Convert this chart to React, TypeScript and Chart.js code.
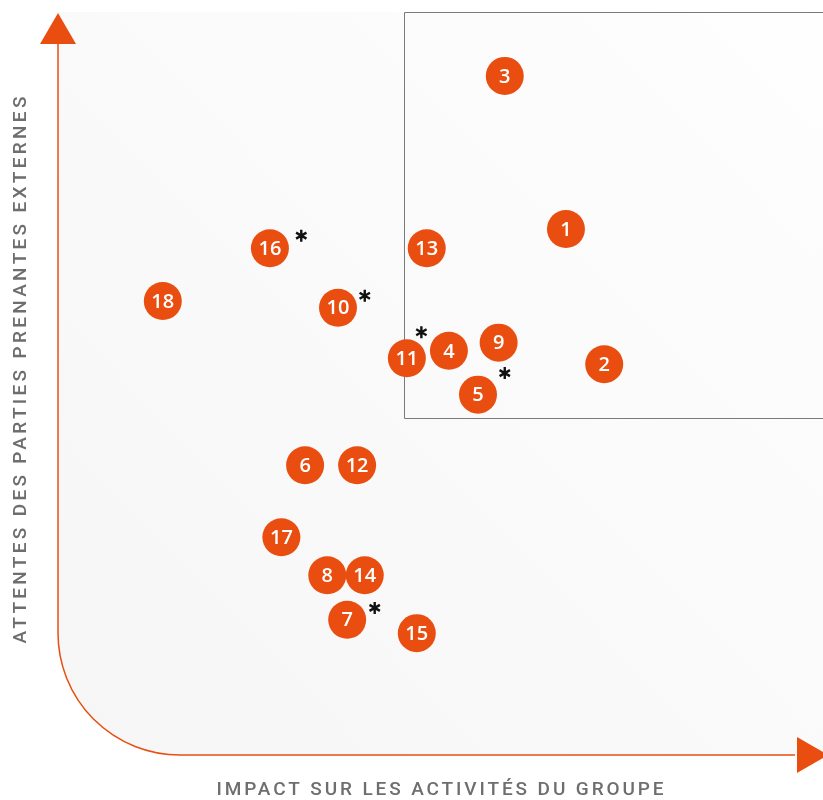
import React, { useEffect, useRef } from "react";
import { Chart, registerables } from "chart.js";

Chart.register(...registerables);

// Issue numbers (labels of the bubbles)
const issueLabels = ["1","2","3","4","5","6","7","8","9","10","11","12","13","14","15","16","17","18"];
// Impact on group activities (x, 0-10)
const impactValues = [6.64, 7.14, 5.84, 5.11, 5.49, 3.23, 3.78, 3.52, 5.76, 3.66, 4.56, 3.91, 4.82, 4.01, 4.69, 2.77, 2.92, 1.37];
// External stakeholder expectations (y, 0-10)
const expectationValues = [7.08, 5.26, 9.14, 5.44, 4.85, 3.90, 1.82, 2.42, 5.55, 6.02, 5.34, 3.90, 6.82, 2.42, 1.64, 6.82, 2.93, 6.11];
// Issues flagged with an asterisk and where the asterisk sits (data units)
const starredIssues = ["16", "10", "11", "5", "7"];
const starX = [3.18, 4.01, 4.75, 5.84, 4.14];
const starY = [6.99, 6.18, 5.69, 5.14, 1.98];
// Priority zone (data units)
const zoneMinX = 4.52;
const zoneMinY = 4.54;

const xTitle = "IMPACT SUR LES ACTIVITÉS DU GROUPE";
const yTitle = "ATTENTES DES PARTIES PRENANTES EXTERNES";

const ORANGE = "#e94e10";

function spacedText(ctx: CanvasRenderingContext2D, text: string, x: number, y: number, target: number) {
  (ctx as any).letterSpacing = "0px";
  const w = ctx.measureText(text).width;
  const sp = Math.max(0, (target - w) / text.length);
  (ctx as any).letterSpacing = sp.toFixed(2) + "px";
  ctx.fillText(text, x + sp / 2, y);
}

export default function App() {
  const ref = useRef<HTMLCanvasElement | null>(null);

  useEffect(() => {
    document.body.style.margin = "0";
    const canvas = ref.current!;
    const points = impactValues.map((x, i) => ({ x, y: expectationValues[i] }));

    const decor = {
      id: "decor",
      beforeDatasetsDraw(chart: any) {
        const { ctx, chartArea: a, scales } = chart;
        const L = a.left, T = a.top, R = a.right, B = a.bottom;
        const r = 122;
        ctx.save();
        // background
        const g = ctx.createLinearGradient(L, B, R, T);
        g.addColorStop(0, "#f6f6f6");
        g.addColorStop(1, "#fefefe");
        ctx.fillStyle = g;
        ctx.beginPath();
        ctx.moveTo(L, T);
        ctx.lineTo(R + 20, T);
        ctx.lineTo(R + 20, B);
        ctx.lineTo(L + r, B);
        ctx.arc(L + r, B - r, r, Math.PI / 2, Math.PI);
        ctx.closePath();
        ctx.fill();

        // priority zone rectangle
        const zx = Math.round(scales.x.getPixelForValue(zoneMinX)) + 0.5;
        const zy = Math.round(scales.y.getPixelForValue(zoneMinY)) + 0.5;
        ctx.strokeStyle = "#7a7a7a";
        ctx.lineWidth = 1;
        ctx.beginPath();
        ctx.moveTo(R + 5, T + 0.5);
        ctx.lineTo(zx, T + 0.5);
        ctx.lineTo(zx, zy);
        ctx.lineTo(R + 5, zy);
        ctx.stroke();

        // axes
        ctx.strokeStyle = ORANGE;
        ctx.lineWidth = 1.5;
        ctx.beginPath();
        ctx.moveTo(L, T + 30);
        ctx.lineTo(L, B - r);
        ctx.arc(L + r, B - r, r, Math.PI, Math.PI / 2, true);
        ctx.lineTo(R - 28, B);
        ctx.stroke();
        ctx.fillStyle = ORANGE;
        ctx.beginPath();
        ctx.moveTo(L, T + 1);
        ctx.lineTo(L + 18, T + 32);
        ctx.lineTo(L - 18, T + 32);
        ctx.closePath();
        ctx.fill();
        ctx.beginPath();
        ctx.moveTo(R - 26, B - 18);
        ctx.lineTo(R + 5, B);
        ctx.lineTo(R - 26, B + 18);
        ctx.closePath();
        ctx.fill();

        // titles
        ctx.fillStyle = "#6e6e6e";
        ctx.font = "500 19px Roboto";
        ctx.textAlign = "center";
        ctx.textBaseline = "middle";
        spacedText(ctx, xTitle, 440, 790, 450);
        ctx.translate(21, 370);
        ctx.rotate(-Math.PI / 2);
        spacedText(ctx, yTitle, 0, 0, 550);
        ctx.restore();
      },
      afterDatasetsDraw(chart: any) {
        const { ctx, scales } = chart;
        const meta = chart.getDatasetMeta(0);
        ctx.save();
        ctx.fillStyle = "#ffffff";
        ctx.font = "600 20px 'Open Sans'";
        ctx.textAlign = "center";
        ctx.textBaseline = "middle";
        meta.data.forEach((el: any, i: number) => {
          ctx.fillText(issueLabels[i], el.x, el.y + 1);
        });
        // asterisks
        ctx.strokeStyle = "#111111";
        ctx.lineWidth = 2.4;
        ctx.lineCap = "butt";
        starredIssues.forEach((_, i) => {
          const cx = scales.x.getPixelForValue(starX[i]);
          const cy = scales.y.getPixelForValue(starY[i]);
          const s = 6;
          ctx.beginPath();
          for (let k = 0; k < 3; k++) {
            const ang = Math.PI / 2 + (k * Math.PI) / 3;
            ctx.moveTo(cx - s * Math.cos(ang), cy - s * Math.sin(ang));
            ctx.lineTo(cx + s * Math.cos(ang), cy + s * Math.sin(ang));
          }
          ctx.stroke();
        });
        ctx.restore();
      },
    };

    const chart = new Chart(canvas, {
      type: "scatter",
      data: {
        labels: issueLabels,
        datasets: [
          {
            data: points,
            backgroundColor: ORANGE,
            borderWidth: 0,
            pointRadius: 19,
            pointHoverRadius: 19,
            clip: false as any,
          },
        ],
      },
      options: {
        responsive: false,
        devicePixelRatio: 1,
        animation: false,
        events: [],
        layout: { autoPadding: false, padding: { left: 58, top: 12, right: 0, bottom: 45 } } as any,
        plugins: { legend: { display: false }, tooltip: { enabled: false } },
        scales: {
          x: { type: "linear", min: 0, max: 10, display: false },
          y: { type: "linear", min: 0, max: 10, display: false },
        },
      },
      plugins: [decor],
    });
    return () => chart.destroy();
  }, []);

  return (
    <div style={{ width: 823, height: 800, background: "#ffffff" }}>
      <canvas ref={ref} width={823} height={800} style={{ display: "block" }} />
    </div>
  );
}
